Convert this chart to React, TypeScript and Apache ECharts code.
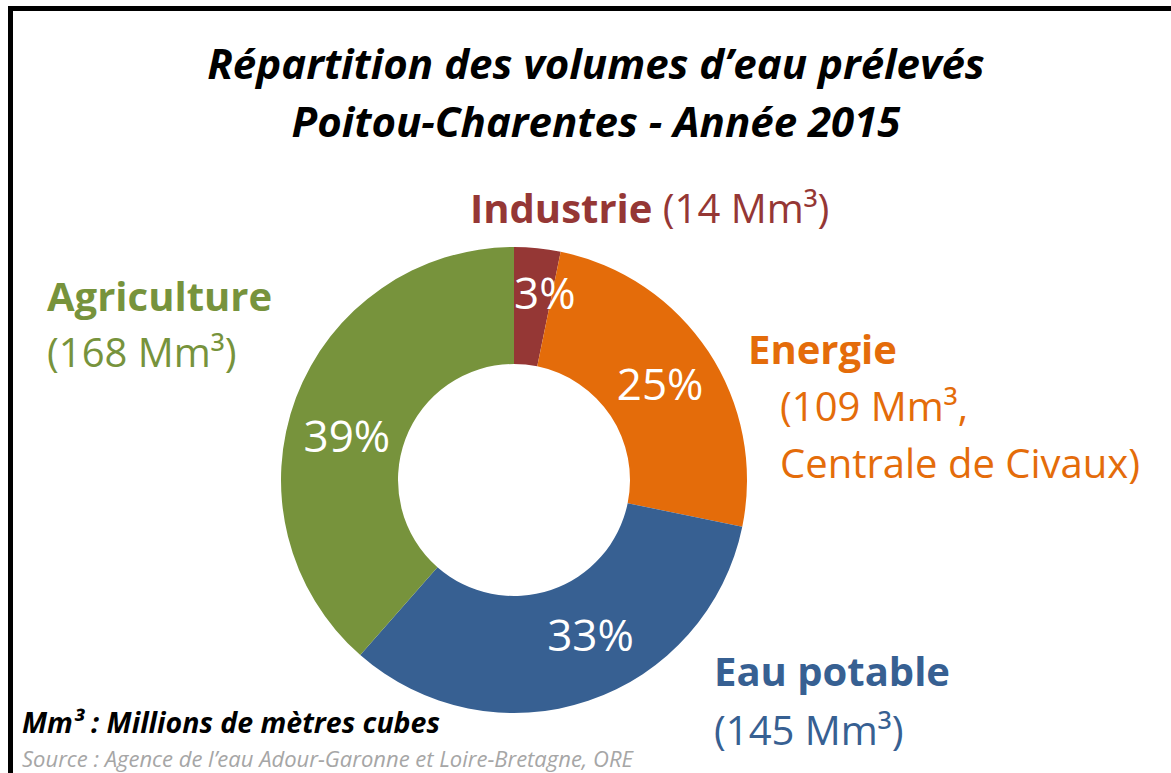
import React, { useEffect, useRef } from "react";
import * as echarts from "echarts";

const categories = ["Industrie", "Energie", "Eau potable", "Agriculture"];
const volumes = [14, 109, 145, 168];
const colors = ["#953735", "#E46C0A", "#376092", "#77933C"];
const titleLines = ["Répartition des volumes d’eau prélevés", "Poitou-Charentes - Année 2015"];
const unitNote = "Mm³ : Millions de mètres cubes";
const sourceNote = "Source : Agence de l’eau Adour-Garonne et Loire-Bretagne, ORE";

const FONT = "'Open Sans', Lato, sans-serif";

export default function App() {
  const ref = useRef<HTMLDivElement>(null);
  useEffect(() => {
    const chart = echarts.init(ref.current!, null, { renderer: "svg" });
    const labelOffsets = [[13, -11], [-2, 1], [20, -14], [-1, 18]];
    const lh = 56;
    const fs = 40;
    const rich = (color: string) => ({
      b: { color, fontSize: fs, fontWeight: "bold", fontFamily: FONT, lineHeight: lh },
      r: { color, fontSize: fs, fontWeight: "normal", fontFamily: FONT, lineHeight: lh },
    });
    const lbl = (text: string, left: number, cy: number, color: string) => ({
      text,
      left,
      top: cy - lh / 2,
      padding: 0,
      textStyle: { rich: rich(color), lineHeight: lh },
    });
    const vol = (i: number) => `(${volumes[i]} Mm³)`;
    const titleStyle = { fontFamily: FONT, fontSize: 42, fontWeight: "bold", fontStyle: "italic", color: "#000", lineHeight: 54 };
    const option: any = {
      animation: false,
      backgroundColor: "#ffffff",
      title: [
        { text: titleLines[0], left: 596, textAlign: "center", top: 62 - 27, padding: 0, textStyle: titleStyle },
        { text: titleLines[1], left: 596, textAlign: "center", top: 120 - 27, padding: 0, textStyle: titleStyle },
        lbl(`{b|${categories[0]}}{r| ${vol(0)}}`, 470, 207, colors[0]),
        lbl(`{b|${categories[1]}}`, 748, 348, colors[1]),
        lbl(`{r|(${volumes[1]} Mm³,}`, 780, 405, colors[1]),
        lbl(`{r|Centrale de Civaux)}`, 780, 462, colors[1]),
        lbl(`{b|${categories[2]}}`, 714, 670, colors[2]),
        lbl(`{r|${vol(2)}}`, 714, 729, colors[2]),
        lbl(`{b|${categories[3]}}`, 47, 295, colors[3]),
        lbl(`{r|${vol(3)}}`, 47, 351, colors[3]),
        {
          text: unitNote,
          left: 22,
          top: 722 - 17,
          padding: 0,
          textStyle: { fontFamily: FONT, fontSize: 28.5, fontWeight: "bold", fontStyle: "italic", color: "#000", lineHeight: 34 },
        },
        {
          text: sourceNote,
          left: 22,
          top: 758 - 13,
          padding: 0,
          textStyle: { fontFamily: FONT, fontSize: 22, fontWeight: "normal", fontStyle: "italic", color: "#A6A6A6", lineHeight: 26 },
        },
      ],
      graphic: [
        { type: "rect", shape: { x: 8, y: 6, width: 1163, height: 5 }, style: { fill: "#000" } },
        { type: "rect", shape: { x: 8, y: 6, width: 5, height: 767 }, style: { fill: "#000" } },
      ],
      series: [
        {
          type: "pie",
          center: [514, 480],
          radius: [116, 233],
          startAngle: 90,
          clockwise: true,
          percentPrecision: 0,
          avoidLabelOverlap: false,
          label: {
            show: true,
            position: "inside",
            formatter: "{d}%",
            color: "#fff",
            fontSize: 44,
            fontFamily: FONT,
            fontWeight: "normal",
          },
          labelLine: { show: false },
          emphasis: { disabled: true },
          itemStyle: { borderWidth: 0 },
          data: categories.map((name, i) => ({
            name,
            value: volumes[i],
            itemStyle: { color: colors[i] },
            label: { offset: labelOffsets[i] },
          })),
        },
      ],
    };
    chart.setOption(option);
    return () => chart.dispose();
  }, []);
  return <div ref={ref} style={{ position: "fixed", left: 0, top: 0, width: 1171, height: 773 }} />;
}
